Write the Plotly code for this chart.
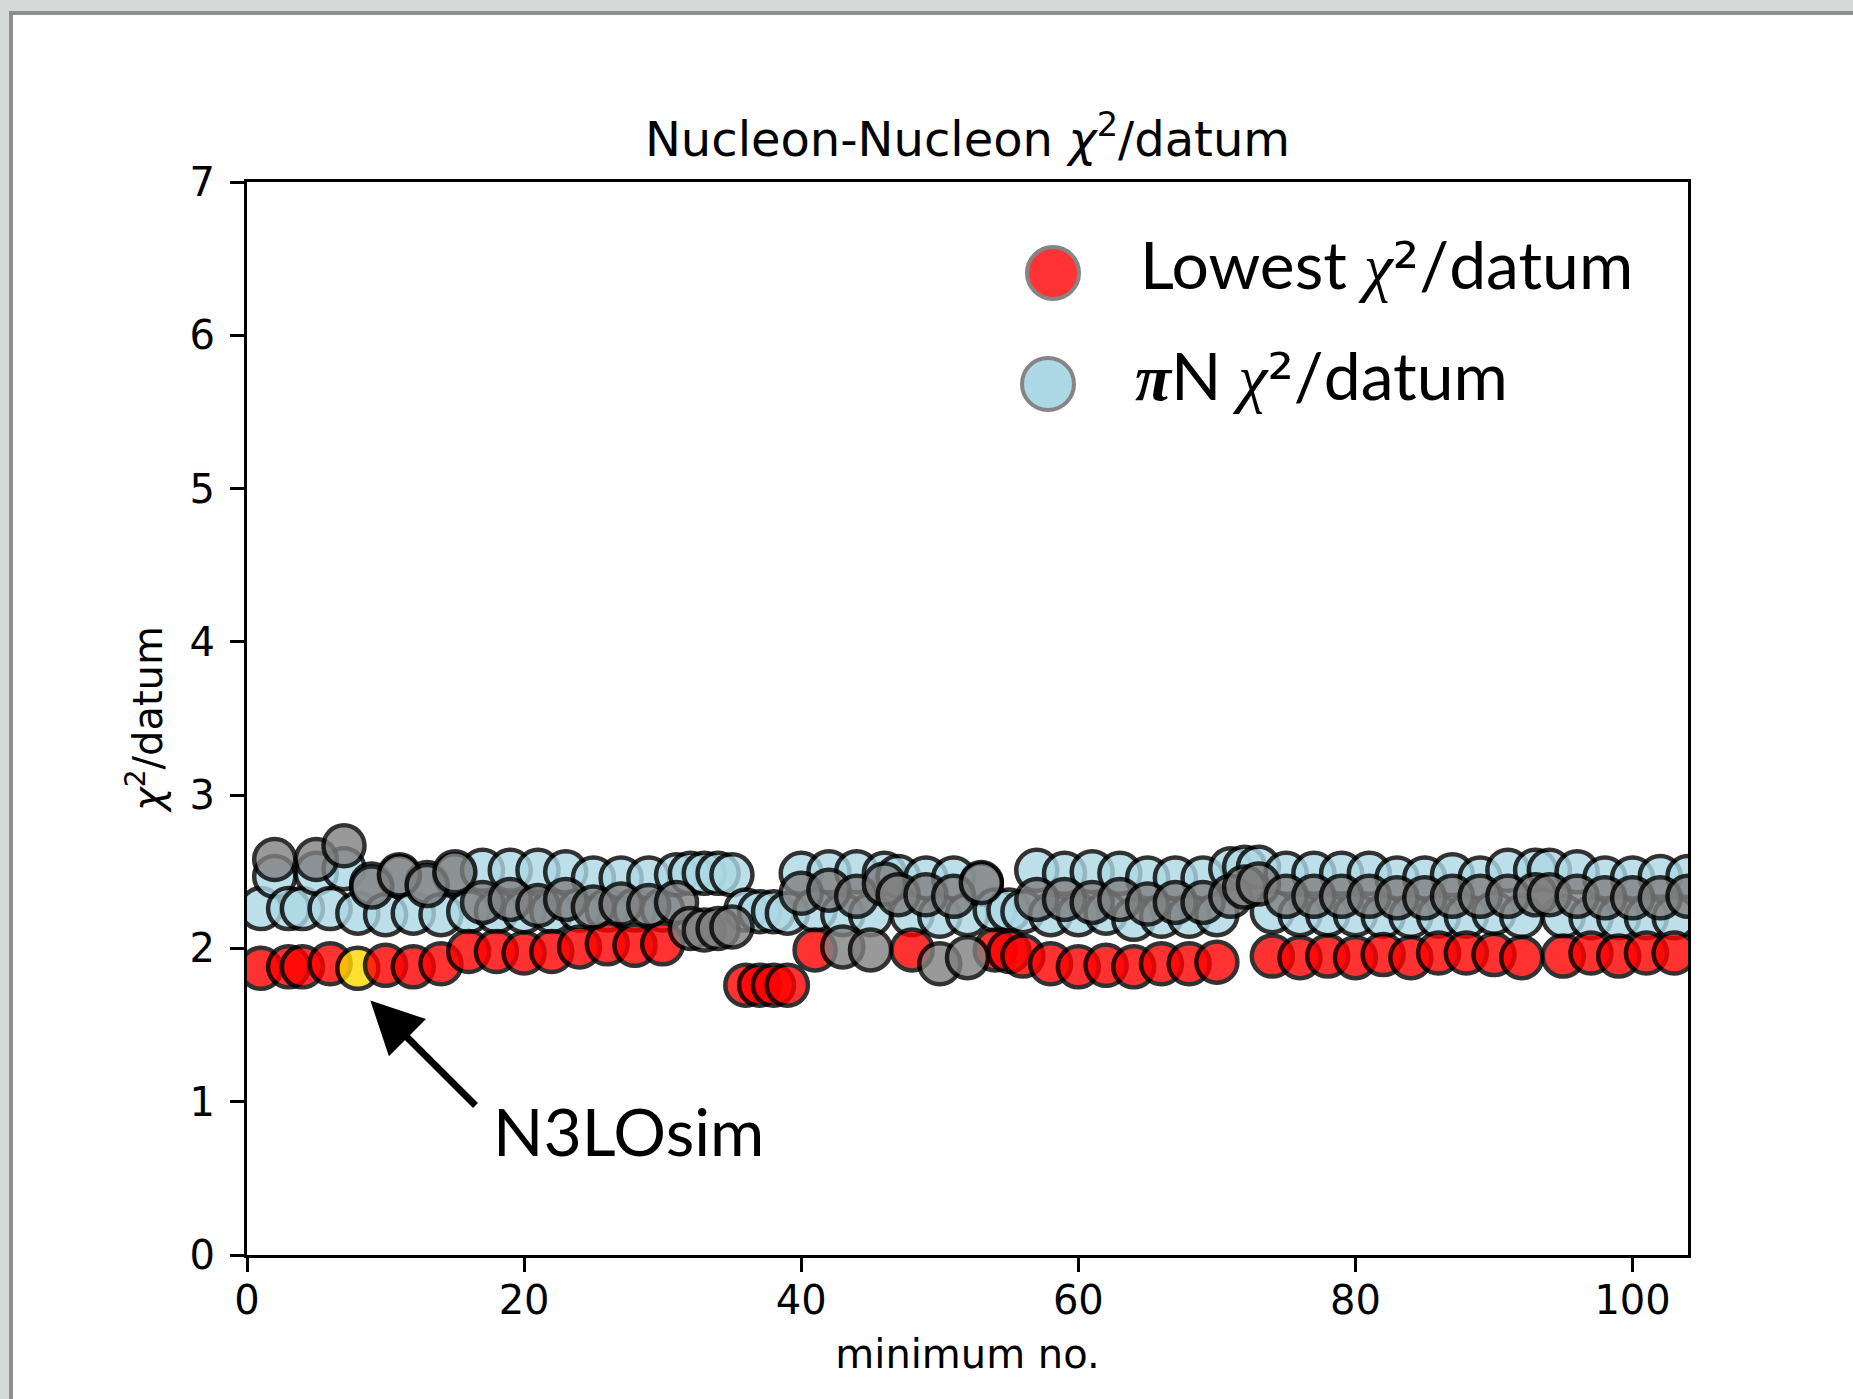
import plotly.graph_objects as go

# ---------------- data ----------------
minimum = list(range(1, 105))

nn_chi2 = [
    1.87, 2.58, 1.88, 1.88, 2.58, 1.90, 2.67, 1.87, 2.40, 1.89,   # 1-10
    2.48, 1.88, 2.41, 1.90, 2.50, 1.98, 2.30, 1.98, 2.32, 1.97,   # 11-20
    2.28, 1.98, 2.32, 2.01, 2.27, 2.03, 2.29, 2.02, 2.28, 2.03,   # 21-30
    2.30, 2.13, 2.12, 2.13, 2.14, 1.76, 1.76, 1.76, 1.76, 2.36,   # 31-40
    1.99, 2.38, 2.01, 2.34, 1.99, 2.42, 2.35, 1.99, 2.35, 1.90,   # 41-50
    2.34, 1.94, 2.43, 1.99, 1.98, 1.95, 2.32, 1.90, 2.32, 1.88,   # 51-60
    2.30, 1.89, 2.32, 1.88, 2.29, 1.90, 2.30, 1.90, 2.30, 1.91,   # 61-70
    2.34, 2.40, 2.42, 1.95, 2.34, 1.94, 2.34, 1.95, 2.34, 1.94,   # 71-80
    2.34, 1.96, 2.33, 1.94, 2.33, 1.97, 2.34, 1.97, 2.34, 1.96,   # 81-90
    2.34, 1.94, 2.35, 2.35, 1.95, 2.34, 1.97, 2.33, 1.95, 2.33,   # 91-100
    1.97, 2.33, 1.97, 2.34,                                       # 101-104
]

pin_chi2 = [
    2.26, 2.47, 2.26, 2.26, 2.49, 2.26, 2.52, 2.23, 2.42, 2.22,   # 1-10
    2.47, 2.23, 2.43, 2.22, 2.48, 2.24, 2.51, 2.24, 2.51, 2.24,   # 11-20
    2.51, 2.24, 2.50, 2.25, 2.46, 2.25, 2.46, 2.25, 2.46, 2.25,   # 21-30
    2.48, 2.49, 2.49, 2.49, 2.48, 2.25, 2.24, 2.24, 2.23, 2.49,   # 31-40
    2.25, 2.50, 2.22, 2.50, 2.22, 2.49, 2.47, 2.22, 2.46, 2.21,   # 41-50
    2.46, 2.22, 2.42, 2.25, 2.25, 2.24, 2.51, 2.22, 2.49, 2.22,   # 51-60
    2.50, 2.23, 2.49, 2.19, 2.46, 2.21, 2.46, 2.21, 2.46, 2.22,   # 61-70
    2.52, 2.53, 2.53, 2.24, 2.49, 2.22, 2.49, 2.22, 2.49, 2.22,   # 71-80
    2.49, 2.21, 2.46, 2.21, 2.46, 2.21, 2.48, 2.21, 2.46, 2.23,   # 81-90
    2.51, 2.21, 2.51, 2.51, 2.21, 2.50, 2.20, 2.46, 2.20, 2.46,   # 91-100
    2.20, 2.47, 2.20, 2.47,                                       # 101-104
]

# 1 = minimum drawn as "lowest" (red), 0 = drawn grey
lowest = [
    1, 0, 1, 1, 0, 1, 0, 1, 0, 1,
    0, 1, 0, 1, 0, 1, 0, 1, 0, 1,
    0, 1, 0, 1, 0, 1, 0, 1, 0, 1,
    0, 0, 0, 0, 0, 1, 1, 1, 1, 0,
    1, 0, 0, 0, 0, 0, 0, 1, 0, 0,
    0, 0, 0, 1, 1, 1, 0, 1, 0, 1,
    0, 1, 0, 1, 0, 1, 0, 1, 0, 1,
    0, 0, 0, 1, 0, 1, 0, 1, 0, 1,
    0, 1, 0, 1, 0, 1, 0, 1, 0, 1,
    0, 1, 0, 0, 1, 0, 1, 0, 1, 0,
    1, 0, 1, 0,
]

highlight_minimum = 8          # N3LOsim
highlight_label = "N3LOsim"

title_text = "Nucleon-Nucleon <i>χ</i><sup>2</sup>/datum"
x_label = "minimum no."
y_label = "<i>χ</i><sup>2</sup>/datum"
x_ticks = [0, 20, 40, 60, 80, 100]
y_ticks = [0, 1, 2, 3, 4, 5, 6, 7]

# ---------------- layout geometry ----------------
W, H = 1853, 1399
L, R, T, B = 247, 1688, 182, 1255


def px(x):
    return (x - L) / (R - L)


def py(y):
    return (B - y) / (B - T)


red_x = [m for m, f in zip(minimum, lowest) if f]
red_y = [v for v, f in zip(nn_chi2, lowest) if f]
red_c = ["gold" if m == highlight_minimum else "red" for m in red_x]
grey_x = [m for m, f in zip(minimum, lowest) if not f]
grey_y = [v for v, f in zip(nn_chi2, lowest) if not f]

MS, MLW = 41, 4.5
edge = dict(color="black", width=MLW)

fig = go.Figure()
fig.add_trace(go.Scatter(
    x=minimum, y=pin_chi2, mode="markers", name="πN χ²/datum",
    marker=dict(size=MS, color="lightblue", opacity=0.8, line=edge),
    showlegend=False))
fig.add_trace(go.Scatter(
    x=red_x, y=red_y, mode="markers", name="Lowest χ²/datum",
    marker=dict(size=MS, color=red_c, opacity=0.8, line=edge),
    showlegend=False))
fig.add_trace(go.Scatter(
    x=grey_x, y=grey_y, mode="markers", name="other minima",
    marker=dict(size=MS, color="grey", opacity=0.8, line=edge),
    showlegend=False))

axis_common = dict(
    showgrid=False, zeroline=False, showline=True, mirror=True,
    linecolor="black", linewidth=3, ticks="outside", ticklen=14,
    tickwidth=3, tickcolor="black",
    tickfont=dict(family="DejaVu Sans", size=40, color="black"),
)

fig.update_layout(
    width=W, height=H,
    margin=dict(l=L, r=W - R, t=T, b=H - B, pad=0),
    paper_bgcolor="white", plot_bgcolor="white",
    title=dict(text=title_text, x=0.5, xref="paper", xanchor="center",
               y=1 - 139 / H, yref="container", yanchor="middle",
               font=dict(family="DejaVu Sans", size=48, color="black")),
    xaxis=dict(range=[0, 104], tickvals=x_ticks, ticklabelstandoff=-6, **axis_common,
               title=dict(text=x_label, standoff=18,
                          font=dict(family="DejaVu Sans", size=40, color="black"))),
    yaxis=dict(range=[0, 7], tickvals=y_ticks, ticklabelstandoff=7, **axis_common,
               title=dict(text=y_label, standoff=15,
                          font=dict(family="DejaVu Sans", size=40, color="black"))),
)

# ---------------- screenshot frame ----------------
frame_light = "#d4d8d7"
frame_dark = "#8c8f8e"
shapes = [
    dict(type="rect", xref="paper", yref="paper", x0=px(0), x1=px(W), y0=py(0), y1=py(11),
         fillcolor=frame_light, line=dict(width=0), layer="below"),
    dict(type="rect", xref="paper", yref="paper", x0=px(0), x1=px(9), y0=py(0), y1=py(H),
         fillcolor=frame_light, line=dict(width=0), layer="below"),
    dict(type="rect", xref="paper", yref="paper", x0=px(9), x1=px(W), y0=py(11), y1=py(15),
         fillcolor=frame_dark, line=dict(width=0), layer="below"),
    dict(type="rect", xref="paper", yref="paper", x0=px(9), x1=px(13), y0=py(11), y1=py(H),
         fillcolor=frame_dark, line=dict(width=0), layer="below"),
]

# ---------------- custom legend ----------------
CHI = ("<span style='font-family:Liberation Serif'><i>χ</i></span>"
       "<span style='font-family:DejaVu Sans'>²</span>")
leg_items = [
    ("#ff3333", "Lowest " + CHI + "/datum", 1053, 273, 1138, 264),
    ("#add8e6", "<span style='font-family:Liberation Serif'><b><i>π</i></b></span>N "
                + CHI + "/datum", 1048, 384, 1133, 375),
]
annotations = []
for col, txt, cx, cy, tx, ty in leg_items:
    shapes.append(dict(type="circle", xref="paper", yref="paper",
                       xsizemode="pixel", ysizemode="pixel",
                       xanchor=px(cx), yanchor=py(cy),
                       x0=-26, x1=26, y0=-26, y1=26,
                       fillcolor=col, line=dict(color="#858585", width=4)))
    annotations.append(dict(xref="paper", yref="paper", x=px(tx), y=py(ty),
                            xanchor="left", yanchor="middle", showarrow=False,
                            text=txt, font=dict(family="Lato", size=66, color="black")))

# ---------------- N3LOsim arrow + label ----------------
hx = highlight_minimum + 0.9
annotations.append(dict(
    x=hx, y=1.66, xref="x", yref="y", ax=16.6, ay=0.965, axref="x", ayref="y",
    text="", showarrow=True, arrowhead=2, arrowsize=1.5, arrowwidth=7,
    arrowcolor="black"))
annotations.append(dict(
    xref="paper", yref="paper", x=px(491), y=py(1130), xanchor="left", yanchor="middle",
    showarrow=False, text=highlight_label,
    font=dict(family="Lato", size=66, color="black")))

fig.update_layout(shapes=shapes, annotations=annotations)

fig.write_html("out.html")
